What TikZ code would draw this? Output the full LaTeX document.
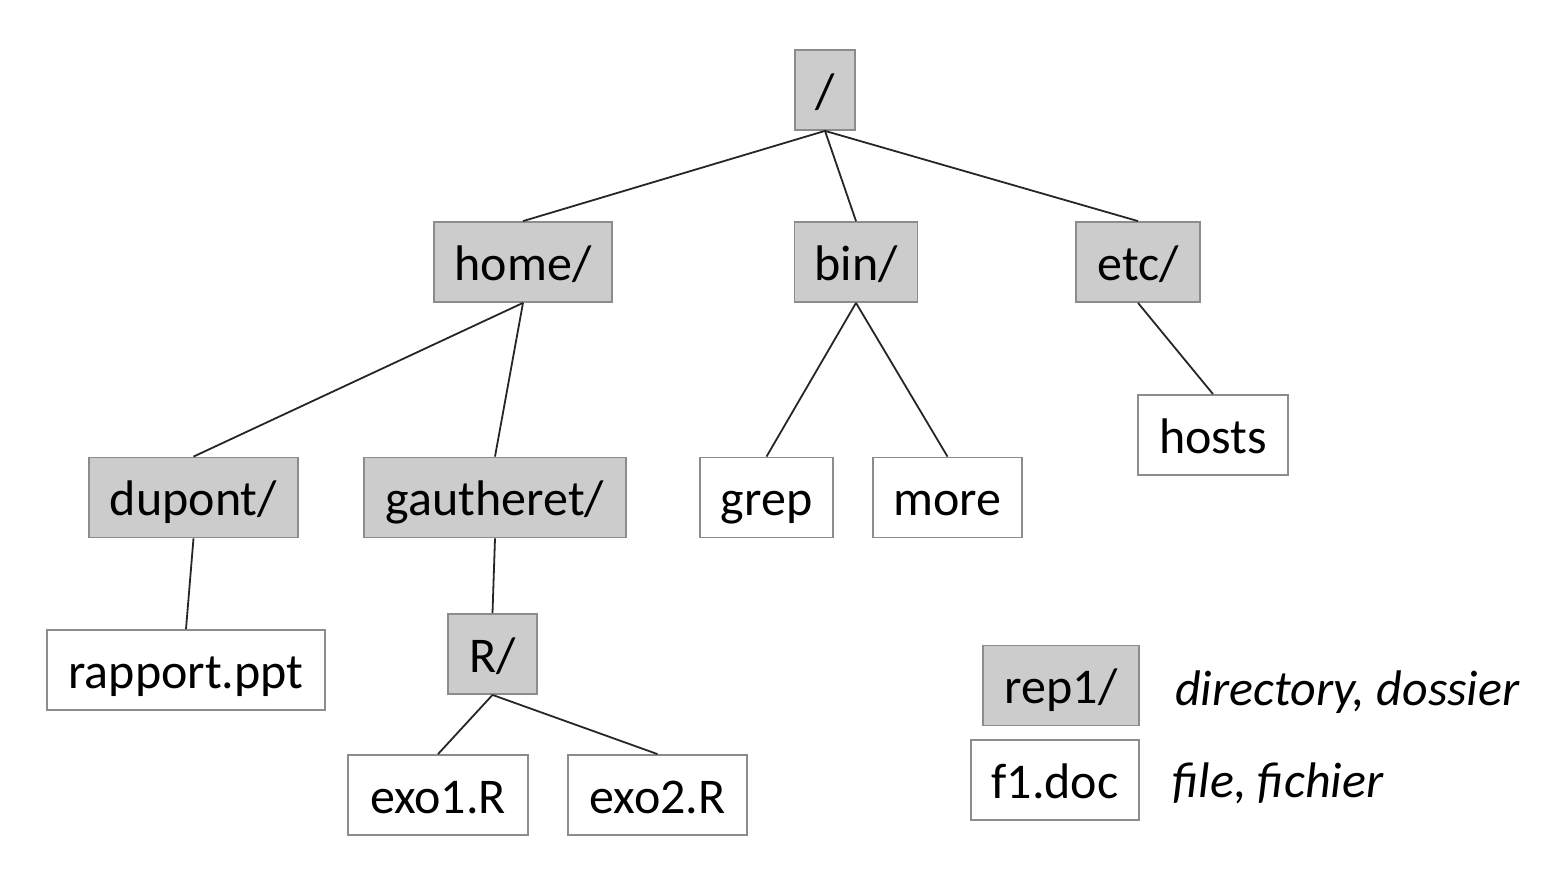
\documentclass[tikz,border=0pt]{standalone}
\usepackage{fontspec}
\setmainfont{Carlito}
\begin{document}
\begin{tikzpicture}[x=1pt,y=-1pt,
  box/.style={draw=black!45, line width=1.8pt, inner sep=0pt, text height=58pt, text depth=22pt, font=\fontsize{50}{56}\selectfont},
  dirbox/.style={box, fill=black!20},
  filebox/.style={box, fill=white},
  legend/.style={anchor=base west, inner sep=0pt, font=\fontsize{50}{56}\selectfont\itshape},
  edge/.style={line width=1.8pt, black!85}]
\useasboundingbox (0,0) rectangle (1552,875);
\node[dirbox, minimum width=60] (root) at (825,90) {/};
\node[dirbox, minimum width=178] (home) at (523,262) {home/};
\node[dirbox, minimum width=123] (bin) at (856,262) {bin/};
\node[dirbox, minimum width=124] (etc) at (1138,262) {etc/};
\node[filebox, minimum width=150] (hosts) at (1213,435) {hosts};
\node[dirbox, minimum width=209] (dupont) at (193.5,497.5) {dupont/};
\node[dirbox, minimum width=262] (gaut) at (495,497.5) {gautheret/};
\node[filebox, minimum width=133] (grep) at (766.5,497.5) {grep};
\node[filebox, minimum width=149] (more) at (947.5,497.5) {more};
\node[filebox, minimum width=278] (rapport) at (186,670) {rapport.ppt};
\node[dirbox, minimum width=89] (R) at (492.5,654) {R/};
\node[filebox, minimum width=180] (exo1) at (438,795) {exo1.R};
\node[filebox, minimum width=179] (exo2) at (657.5,795) {exo2.R};
\node[dirbox, minimum width=156] (rep) at (1061,685.5) {rep1/};
\node[filebox, minimum width=168] (f1) at (1055,780) {f1.doc};
\node[legend] (ldir) at (1175,705) {directory, dossier};
\node[legend] (lfile) at (1172,797) {file, fichier};
\draw[edge] (root.south) -- (home.north);
\draw[edge] (root.south) -- (bin.north);
\draw[edge] (root.south) -- (etc.north);
\draw[edge] (home.south) -- (dupont.north);
\draw[edge] (home.south) -- (gaut.north);
\draw[edge] (bin.south) -- (grep.north);
\draw[edge] (bin.south) -- (more.north);
\draw[edge] (etc.south) -- (hosts.north);
\draw[edge] (dupont.south) -- (rapport.north);
\draw[edge] (gaut.south) -- (R.north);
\draw[edge] (R.south) -- (exo1.north);
\draw[edge] (R.south) -- (exo2.north);
\end{tikzpicture}
\end{document}
